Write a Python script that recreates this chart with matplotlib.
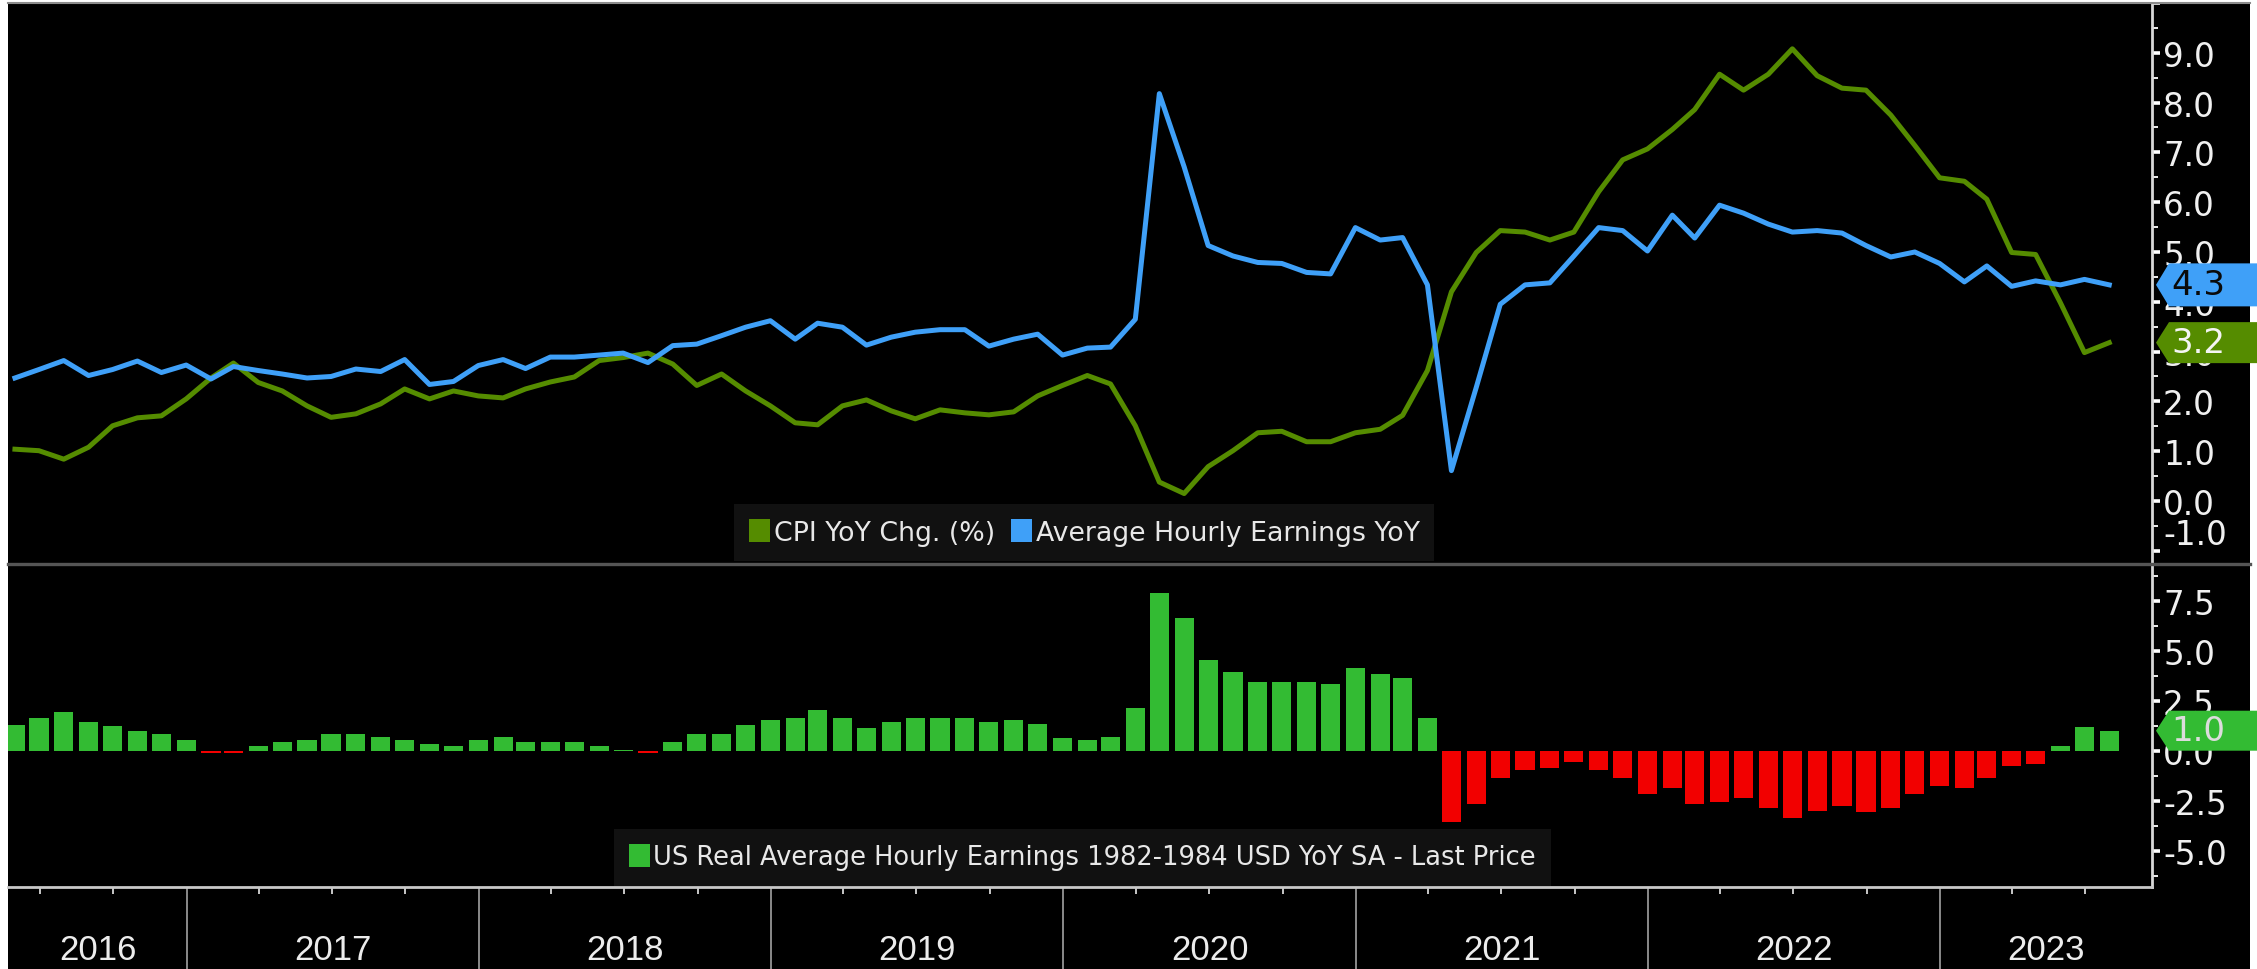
import matplotlib
matplotlib.use("Agg")
import matplotlib.pyplot as plt
import matplotlib.transforms as mtransforms
from matplotlib.patches import Patch, Polygon, Rectangle
from matplotlib.lines import Line2D
from matplotlib.ticker import MultipleLocator, FixedLocator
from matplotlib import font_manager
import numpy as np
import pandas as pd

# ---------------- data (monthly, May 2016 - Jul 2023) ----------------
start_month = "2016-05"
end_month = "2023-07"

cpi_yoy = [1.04, 1.01, 0.84, 1.08, 1.51, 1.67, 1.71, 2.05,
           2.47, 2.77, 2.38, 2.21, 1.91, 1.68, 1.75, 1.95, 2.25, 2.05, 2.21, 2.11,
           2.07, 2.25, 2.39, 2.49, 2.82, 2.88, 2.97, 2.75, 2.32, 2.55, 2.21, 1.91,
           1.57, 1.53, 1.91, 2.03, 1.81, 1.65, 1.83, 1.77, 1.73, 1.79, 2.11, 2.32,
           2.52, 2.35, 1.51, 0.38, 0.15, 0.69, 1.01, 1.37, 1.40, 1.19, 1.19, 1.37,
           1.44, 1.72, 2.62, 4.20, 4.99, 5.43, 5.40, 5.24, 5.40, 6.21, 6.85, 7.07,
           7.46, 7.86, 8.57, 8.25, 8.57, 9.08, 8.54, 8.29, 8.25, 7.75, 7.14, 6.49,
           6.42, 6.06, 4.99, 4.95, 3.98, 2.98, 3.18]

ahe_yoy = [2.47, 2.64, 2.82, 2.52, 2.64, 2.81, 2.58, 2.73,
           2.45, 2.70, 2.62, 2.55, 2.47, 2.50, 2.65, 2.60, 2.84, 2.34, 2.40, 2.72,
           2.84, 2.66, 2.89, 2.89, 2.93, 2.97, 2.78, 3.12, 3.15, 3.32, 3.49, 3.62,
           3.25, 3.57, 3.49, 3.13, 3.29, 3.39, 3.44, 3.44, 3.11, 3.25, 3.35, 2.93,
           3.07, 3.09, 3.65, 8.18, 6.71, 5.13, 4.92, 4.79, 4.77, 4.59, 4.56, 5.49,
           5.24, 5.29, 4.34, 0.61, 2.28, 3.95, 4.34, 4.38, 4.92, 5.49, 5.43, 5.02,
           5.74, 5.28, 5.94, 5.78, 5.56, 5.40, 5.43, 5.38, 5.13, 4.90, 5.00, 4.77,
           4.40, 4.72, 4.31, 4.42, 4.34, 4.45, 4.34]

real_ahe_yoy = [1.30, 1.62, 1.92, 1.42, 1.22, 1.00, 0.82, 0.52,
                -0.10, -0.10, 0.22, 0.42, 0.52, 0.82, 0.82, 0.70, 0.52, 0.32, 0.22, 0.52,
                0.70, 0.42, 0.42, 0.42, 0.22, 0.05, -0.10, 0.42, 0.82, 0.82, 1.30, 1.52,
                1.62, 2.02, 1.62, 1.12, 1.42, 1.62, 1.62, 1.62, 1.42, 1.52, 1.32, 0.62,
                0.52, 0.70, 2.12, 7.87, 6.62, 4.53, 3.92, 3.42, 3.42, 3.42, 3.33, 4.13,
                3.83, 3.63, 1.62, -3.58, -2.67, -1.37, -0.97, -0.87, -0.55, -0.95, -1.37, -2.18,
                -1.87, -2.67, -2.58, -2.37, -2.88, -3.38, -3.00, -2.78, -3.08, -2.88, -2.18, -1.78,
                -1.88, -1.37, -0.78, -0.68, 0.22, 1.20, 1.00]

years = ["2016", "2017", "2018", "2019", "2020", "2021", "2022", "2023"]
top_ticks = [-1, 0, 1, 2, 3, 4, 5, 6, 7, 8, 9, 10]
bot_ticks = [-5.0, -2.5, 0.0, 2.5, 5.0, 7.5]

legend_top = ["CPI YoY Chg. (%)", "Average Hourly Earnings YoY"]
legend_bot = "US Real Average Hourly Earnings 1982-1984 USD YoY SA - Last Price"

# ---------------- style ----------------
GREEN_LINE = "#558c00"
BLUE_LINE = "#3fa0f8"
BAR_GREEN = "#33bb33"
BAR_RED = "#f20000"
TXT = "#f0f0f0"

names = {f.name for f in font_manager.fontManager.ttflist}
if "Liberation Sans Narrow" in names:
    LEGFONT, LEGFS, LEGFS2 = "Liberation Sans Narrow", 24, 23
else:
    LEGFONT, LEGFS, LEGFS2 = "DejaVu Sans", 19.3, 18.5
YEARFONT = "Liberation Sans" if "Liberation Sans" in names else "DejaVu Sans"

dates = pd.period_range(start_month, end_month, freq="M").end_time.normalize()

W, H = 2257, 970
fig = plt.figure(figsize=(W / 100, H / 100), dpi=100, facecolor="white")


def fx(px):
    return px / W


def fy(py):
    return 1 - py / H


fig.patches.append(Rectangle((fx(8), 0), fx(2250) - fx(8), fy(4), transform=fig.transFigure,
                             facecolor="black", edgecolor="none", zorder=-10))

ax1 = fig.add_axes([fx(8), fy(563), fx(2152) - fx(8), fy(4) - fy(563)])
ax2 = fig.add_axes([fx(8), fy(888), fx(2152) - fx(8), fy(566) - fy(888)], sharex=ax1)
for ax in (ax1, ax2):
    ax.set_facecolor("black")
    for s in ("top", "left"):
        ax.spines[s].set_visible(False)
    ax.spines["right"].set_color("#d8d8d8")
    ax.spines["right"].set_linewidth(2)
ax1.spines["bottom"].set_visible(False)
ax2.spines["bottom"].set_color("#c8c8c8")
ax2.spines["bottom"].set_linewidth(2)

# frame lines
fig.add_artist(Line2D([fx(8), fx(2250)], [fy(4), fy(4)], color="#8c8c8c", lw=1.5, zorder=5))
fig.add_artist(Line2D([fx(8), fx(2250)], [fy(564.5), fy(564.5)], color="#555555", lw=2.4, zorder=5))

# ---------------- lines ----------------
ax1.plot(dates, cpi_yoy, color=GREEN_LINE, lw=3.6, solid_joinstyle="round", zorder=3)
ax1.plot(dates, ahe_yoy, color=BLUE_LINE, lw=3.6, solid_joinstyle="round", zorder=4)

# ---------------- bars ----------------
bar_colors = [BAR_GREEN if v >= 0 else BAR_RED for v in real_ahe_yoy]
ax2.bar(dates, real_ahe_yoy, width=24, color=bar_colors, align="center", zorder=3)

# ---------------- limits ----------------
px_per_day = 292.3 / 365.25
x0 = pd.Timestamp("2017-01-01")
xmin = x0 - pd.Timedelta(days=179 / px_per_day)
xmax = x0 + pd.Timedelta(days=1965 / px_per_day)
ax1.set_xlim(xmin, xmax)
ax1.set_ylim(-1.225, 10.0)
ax2.set_ylim(-6.815, 9.285)

# ---------------- y ticks (right) ----------------
for ax in (ax1, ax2):
    ax.yaxis.tick_right()
    ax.tick_params(axis="y", which="major", length=6, width=2.6, color="white",
                   labelsize=23.5, labelcolor=TXT, pad=2, direction="out")
    ax.tick_params(axis="y", which="minor", length=4.5, width=1.3, color="white", direction="out")

ax1.set_yticks(top_ticks, [("" if v == 10 else f"{v:.1f}") for v in top_ticks])
ax1.yaxis.set_minor_locator(MultipleLocator(0.5))
ax2.set_yticks(bot_ticks, [f"{v:.1f}" for v in bot_ticks])
ax2.yaxis.set_minor_locator(MultipleLocator(1.25))
for t in ax1.yaxis.get_major_ticks():
    if t.get_loc() == -1:
        t.label2.set_verticalalignment("bottom")

# ---------------- x ticks ----------------
ax1.tick_params(axis="x", which="both", length=0, labelbottom=False)
year_starts = [pd.Timestamp(f"{int(y) + 1}-01-01") for y in years[:-1]]
quarter_starts = [d for d in pd.date_range("2016-04-01", "2023-10-01", freq="QS")
                  if d.month != 1 and xmin <= d <= xmax]
ax2.xaxis.set_major_locator(FixedLocator([matplotlib.dates.date2num(d) for d in year_starts]))
ax2.xaxis.set_minor_locator(FixedLocator([matplotlib.dates.date2num(d) for d in quarter_starts]))
ax2.tick_params(axis="x", which="major", length=59, width=1.4, color="#8a8a8a",
                labelbottom=False, direction="out")
ax2.tick_params(axis="x", which="minor", length=5, width=1.4, color="#c8c8c8",
                labelbottom=False, direction="out")

bounds = [xmin] + year_starts + [xmax]
trans_x = mtransforms.blended_transform_factory(ax2.transData, ax2.transAxes)
for y, a, b in zip(years, bounds[:-1], bounds[1:]):
    ax2.text(a + (b - a) / 2, -0.193, y, transform=trans_x, ha="center", va="center",
             fontsize=25, color="#ececec", family=YEARFONT, clip_on=False)

# ---------------- legends ----------------
leg1 = ax1.legend(handles=[Patch(facecolor=GREEN_LINE, label=legend_top[0]),
                           Patch(facecolor=BLUE_LINE, label=legend_top[1])],
                  loc="lower center", bbox_to_anchor=(0.502, 0.0), ncol=2, frameon=True,
                  facecolor="#111111", edgecolor="none", framealpha=1, fancybox=False,
                  prop={"family": LEGFONT, "size": LEGFS}, handlelength=0.8, handleheight=0.95,
                  handletextpad=0.12, columnspacing=0.6, borderpad=0.55, borderaxespad=0.05)
for t in leg1.get_texts():
    t.set_color("#e8e8e8")
leg1.set_zorder(6)

leg2 = ax2.legend(handles=[Patch(facecolor=BAR_GREEN, label=legend_bot)],
                  loc="lower center", bbox_to_anchor=(0.501, 0.0), frameon=True,
                  facecolor="#111111", edgecolor="none", framealpha=1, fancybox=False,
                  prop={"family": LEGFONT, "size": LEGFS2}, handlelength=0.8, handleheight=0.95,
                  handletextpad=0.12, borderpad=0.6, borderaxespad=0.05)
for t in leg2.get_texts():
    t.set_color("#e8e8e8")
leg2.set_zorder(6)

# ---------------- last-value tags ----------------
axw = 2152 - 8


def tag(ax, value, fc, tc, half_px, px_per_unit):
    tr = mtransforms.blended_transform_factory(ax.transAxes, ax.transData)
    xt = (2156 - 8) / axw
    xb = (2169 - 8) / axw
    xe = (2258 - 8) / axw
    hh = half_px / px_per_unit
    verts = [(xt, value), (xb, value + hh), (xe, value + hh), (xe, value - hh), (xb, value - hh)]
    ax.add_patch(Polygon(verts, closed=True, transform=tr, facecolor=fc, edgecolor="none",
                         clip_on=False, zorder=10))
    ax.text((2171 - 8) / axw, value, f"{value:.1f}", transform=tr, ha="left", va="center",
            fontsize=24.5, color=tc, zorder=11, clip_on=False)


tag(ax1, ahe_yoy[-1], BLUE_LINE, "#0a0a0a", 21.5, 49.8)
tag(ax1, cpi_yoy[-1], GREEN_LINE, "#f4f4f4", 20.5, 49.8)
tag(ax2, real_ahe_yoy[-1], BAR_GREEN, "#dcdcdc", 20, 20.0)

fig.savefig("out.png", dpi=100, facecolor=fig.get_facecolor())
